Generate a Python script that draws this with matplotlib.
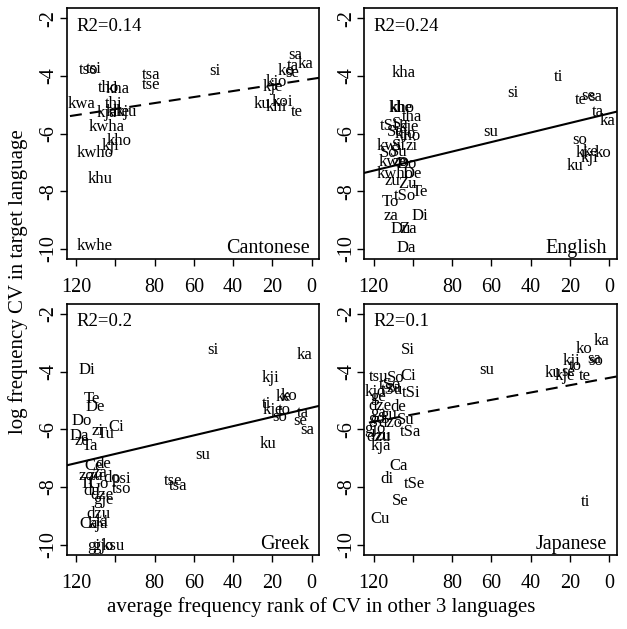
import matplotlib
matplotlib.use("Agg")
import matplotlib.pyplot as plt

plt.rcParams['font.family'] = ['Liberation Serif', 'DejaVu Serif']
plt.rcParams['lines.scale_dashes'] = False

# ---------------- data ----------------
languages = ["Cantonese", "English", "Greek", "Japanese"]
r2_values = ["0.14", "0.24", "0.2", "0.1"]
fit_intercepts = [-4.109, -5.304, -5.251, -4.22]
fit_slopes = [-0.01044, -0.0165, -0.01603, -0.01268]
fit_significant = [False, True, True, False]

cant_labels = ["sa", "ka", "ta", "ko", "se", "kjo", "kje", "ku", "koi", "khi", "te",
               "si", "tsa", "tse", "tso", "tsi", "tho", "kha", "kwa", "thi", "kja",
               "khe", "kju", "kwha", "kho", "kji", "kwho", "khu", "kwhe"]
cant_x = [8.5, 3.0, 9.4, 12.8, 9.7, 18.2, 19.6, 25.5, 14.8, 17.9, 7.7,
          49.3, 82.0, 82.0, 113.7, 110.8, 103.6, 99.0, 117.1, 101.0, 104.4,
          99.0, 94.6, 104.4, 98.0, 102.7, 110.3, 107.8, 110.3]
cant_y = [-3.28, -3.60, -3.66, -3.83, -3.91, -4.21, -4.37, -4.99, -4.91, -5.07, -5.24,
          -3.83, -3.98, -4.33, -3.79, -3.75, -4.41, -4.44, -4.99, -4.99, -5.30,
          -5.25, -5.27, -5.76, -6.26, -6.43, -6.66, -7.59, -9.88]

eng_labels = ["kha", "ti", "si", "te", "se", "sa", "ta", "ka", "su", "so", "ki", "ke",
              "ko", "kji", "ku",
              "kho", "khe", "tha", "tSi", "Sa", "kje", "Se", "kjo", "tho", "kwi", "Si",
              "zi", "So", "Su", "kwe", "zo", "Do", "kwho", "De", "zu", "Zu", "Te",
              "tSo", "To", "za", "Di", "Du", "Za", "Da"]
eng_x = [104.7, 25.9, 49.1, 14.5, 10.6, 7.2, 6.0, 0.9, 60.3, 14.8, 13.9, 9.7,
         3.0, 10.1, 17.4,
         105.5, 106.4, 100.5, 112.3, 106.4, 102.2, 109.0, 103.9, 101.3, 112.3, 107.3,
         100.5, 112.3, 107.3, 110.6, 106.4, 103.0, 109.0, 100.5, 110.6, 103.0, 96.6,
         103.9, 111.5, 111.2, 96.6, 106.4, 102.6, 103.6]
eng_y = [-3.89, -4.04, -4.59, -4.85, -4.70, -4.75, -5.26, -5.55, -5.93, -6.21, -6.67, -6.63,
         -6.67, -6.85, -7.11,
         -5.12, -5.13, -5.43, -5.74, -5.66, -5.78, -5.93, -6.01, -6.09, -6.42, -6.42,
         -6.42, -6.67, -6.65, -6.99, -6.99, -7.05, -7.40, -7.40, -7.63, -7.75, -8.03,
         -8.17, -8.38, -8.85, -8.87, -9.31, -9.31, -9.98]

greek_labels = ["si", "ka", "Di", "kji", "ke", "ko", "ti", "kje", "to", "so", "ta", "se",
                "sa", "ku", "su", "tse", "tsa", "Te", "De", "Do", "zi", "Ci", "Tu", "Da",
                "ze", "Ta", "Ce", "de", "za", "zo", "zu", "do", "psi", "Ti", "Go", "tso",
                "du", "dze", "gje", "dzu", "Ca", "kja", "ki", "gi", "gjo", "ksu"]
greek_x = [50.4, 3.5, 114.6, 20.8, 14.1, 11.4, 23.0, 19.9, 14.1, 16.5, 4.6, 5.7,
           2.3, 22.1, 55.5, 70.5, 67.9, 112.0, 110.3, 117.1, 109.1, 99.6, 104.7, 118.3,
           117.1, 112.9, 111.2, 106.1, 107.8, 114.6, 110.3, 101.8, 96.7, 114.6, 108.6, 96.7,
           112.0, 106.9, 106.1, 108.6, 113.7, 109.1, 106.9, 111.2, 106.4, 101.0]
greek_y = [-3.24, -3.41, -3.96, -4.23, -4.89, -4.86, -5.12, -5.35, -5.35, -5.56, -5.44, -5.72,
           -6.02, -6.51, -6.89, -7.81, -7.95, -4.94, -5.24, -5.72, -6.07, -5.93, -6.18, -6.25,
           -6.42, -6.57, -7.26, -7.20, -7.53, -7.61, -7.61, -7.69, -7.72, -7.88, -7.88, -8.07,
           -8.13, -8.27, -8.45, -8.94, -9.28, -9.28, -9.23, -10.04, -10.04, -10.04]

jap_labels = ["ka", "ko", "sa", "so", "kji", "to", "ku", "se", "kje", "te", "su", "ti",
              "Si", "tsu", "So", "Ci", "tSo", "tSu", "za", "kjo", "ge", "tSi", "dze", "de",
              "ga", "gu", "go", "dzo", "Su", "gjo", "tSa", "zu", "dzu", "kja", "Ca", "di",
              "tSe", "Se", "Cu"]
jap_x = [3.8, 13.1, 7.7, 6.7, 19.5, 17.4, 28.4, 20.8, 22.4, 12.3, 62.6, 12.3,
         102.7, 117.5, 109.0, 102.2, 111.5, 110.6, 109.5, 119.1, 117.5, 101.0, 116.6, 107.3,
         117.5, 112.4, 118.3, 111.5, 103.9, 119.1, 101.3, 114.9, 117.5, 116.6, 107.3, 113.2,
         99.3, 106.4, 116.6]
jap_y = [-2.94, -3.21, -3.56, -3.64, -3.64, -3.82, -4.06, -4.02, -4.17, -4.17, -3.93, -8.53,
         -3.27, -4.19, -4.22, -4.17, -4.48, -4.63, -4.56, -4.72, -4.89, -4.75, -5.18, -5.24,
         -5.44, -5.49, -5.64, -5.79, -5.67, -5.99, -6.10, -6.22, -6.28, -6.57, -7.26, -7.72,
         -7.88, -8.48, -9.11]

panel_labels = [cant_labels, eng_labels, greek_labels, jap_labels]
panel_x = [cant_x, eng_x, greek_x, jap_x]
panel_y = [cant_y, eng_y, greek_y, jap_y]

x_ticks = [120, 100, 80, 60, 40, 20, 0]
x_tick_labels = ["120", "", "80", "60", "40", "20", "0"]
y_ticks = [-2, -4, -6, -8, -10]
y_tick_labels = ["-2", "-4", "-6", "-8", "-10"]

# ---------------- figure ----------------
fig = plt.figure(figsize=(6.27, 6.29), dpi=100)
W, H = 627.0, 629.0
lefts = [66.7, 364.3]
tops = [8.3, 304.0]
pw, ph = 252.3, 250.5

for i in range(4):
    r, c = divmod(i, 2)
    ax = fig.add_axes([lefts[c] / W, 1 - (tops[r] + ph) / H, pw / W, ph / H])
    ax.set_xlim(124.76, -3.76)
    ax.set_ylim(-10.34, -1.66)
    for lab, xv, yv in zip(panel_labels[i], panel_x[i], panel_y[i]):
        ax.text(xv, yv, lab, ha='center', va='center', fontsize=12, color='black')
    ls = '-' if fit_significant[i] else (0, (8.6, 5.8))
    ax.axline((0, fit_intercepts[i]), slope=fit_slopes[i], color='black',
              linewidth=1.5, linestyle=ls)
    ax.text(0.037, 0.963, "R2=" + r2_values[i], transform=ax.transAxes,
            ha='left', va='top', fontsize=13.5)
    ax.text(0.962, 0.022, languages[i], transform=ax.transAxes,
            ha='right', va='baseline', fontsize=14.5)
    ax.set_xticks(x_ticks)
    ax.set_xticklabels(x_tick_labels, fontsize=14.5)
    ax.set_yticks(y_ticks)
    ax.set_yticklabels(y_tick_labels, fontsize=14.5, rotation=90, va='center')
    ax.tick_params(axis='both', direction='out', length=5, width=1, color='black')
    ax.tick_params(axis='x', pad=9)
    ax.tick_params(axis='y', pad=1)
    for sp in ax.spines.values():
        sp.set_linewidth(1.2)
        sp.set_color('black')

fig.text(18 / W, 1 - 282 / H, "log frequency CV in target language", rotation=90,
         ha='center', va='center', fontsize=15)
fig.text(321 / W, 1 - 607 / H, "average frequency rank of CV in other 3 languages",
         ha='center', va='center', fontsize=15)

fig.savefig("out.png", dpi=100, facecolor='white')
